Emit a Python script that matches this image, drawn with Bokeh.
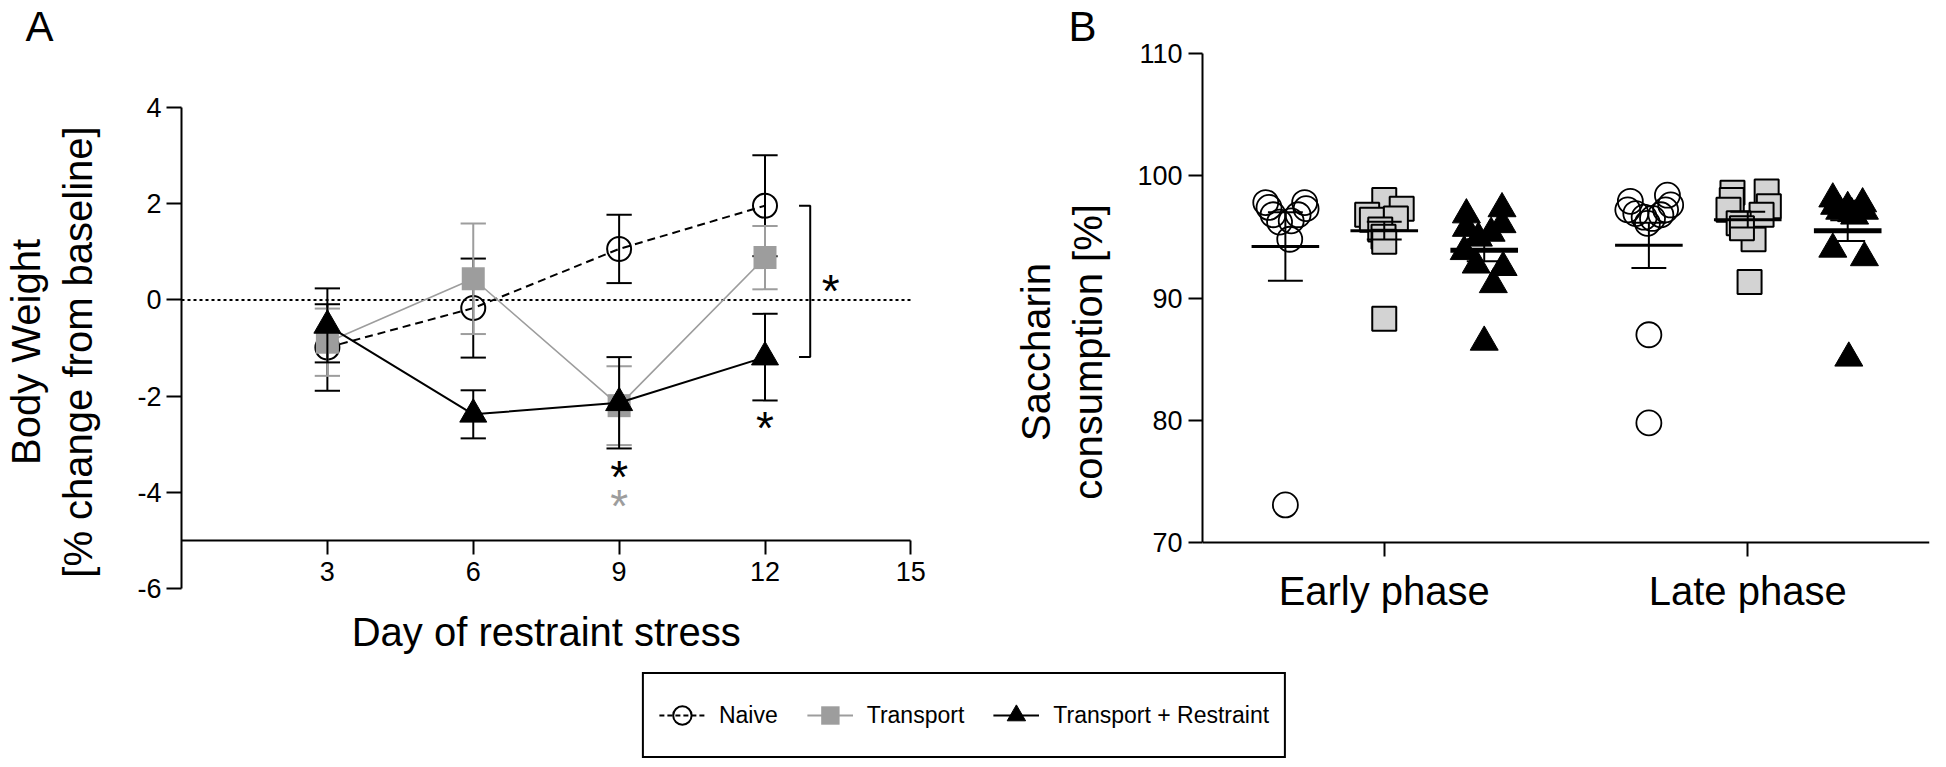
from bokeh.plotting import figure
from bokeh.models import (Range1d, LinearAxis, FixedTicker, Label, Legend,
                          LegendItem, ColumnDataSource)
from bokeh.layouts import row, column
from bokeh.embed import file_html
from bokeh.resources import INLINE
from bokeh.core.properties import value

FONT = "Liberation Sans"
GRAY = "#9d9d9d"
LIGHT = "#d3d3d3"

# ---------------- Panel A data (mean +/- SEM, % change from baseline)
days = [3, 6, 9, 12]
naive_mean = [-0.99, -0.17, 1.06, 1.96]
naive_sem = [0.90, 1.03, 0.71, 1.05]
transport_mean = [-0.88, 0.44, -2.20, 0.88]
transport_sem = [0.70, 1.15, 0.82, 0.66]
tr_mean = [-0.53, -2.38, -2.14, -1.19]
tr_sem = [0.77, 0.50, 0.95, 0.90]
x_ticks_A = [3, 6, 9, 12, 15]
y_ticks_A = [-6, -4, -2, 0, 2, 4]
x_axis_level_A = -5

# significance stars in panel A
sig_x = [9, 9, 12, 13.35]
sig_y = [-3.55, -4.17, -2.55, 0.3]
sig_color = ["black", GRAY, "black", "black"]

# ---------------- Panel B data (saccharin consumption, %)
phases = ["Early phase", "Late phase"]
y_ticks_B = [70, 80, 90, 100, 110]
naive_vals = [
    [97.8, 97.4, 97.8, 97.3, 96.8, 96.8, 96.2, 96.3, 94.8, 73.1],
    [97.9, 97.2, 96.9, 96.6, 96.5, 96.8, 98.4, 97.6, 97.2, 96.1, 87.0, 79.8],
]
transport_vals = [
    [98.0, 97.3, 96.8, 96.4, 96.5, 95.6, 95.0, 94.6, 88.3],
    [98.7, 98.6, 98.0, 97.2, 97.5, 96.8, 96.1, 94.8, 95.7, 91.3],
]
tr_vals = [
    [97.3, 96.8, 96.0, 95.7, 95.3, 94.9, 93.8, 92.7, 92.5, 91.1, 86.4],
    [98.1, 97.5, 97.1, 97.7, 97.1, 96.7, 97.4, 96.9, 94.0, 93.3, 85.1],
]
b_mean = {"naive": [94.2, 94.3], "transport": [95.5, 96.4], "tr": [93.9, 95.5]}
b_sem = {"naive": [2.8, 1.85], "transport": [0.72, 0.65], "tr": [0.9, 0.85]}

# horizontal scatter spread of the points (layout only)
naive_dx = [
    [-0.054, -0.045, 0.053, 0.057, -0.034, 0.035, -0.016, 0.016, 0.012, 0.0],
    [-0.051, -0.058, -0.036, -0.013, 0.010, 0.033, 0.051, 0.060, 0.046, -0.004, 0.0, 0.0],
]
transport_dx = [
    [0.0, 0.048, -0.047, -0.034, 0.032, -0.011, -0.002, 0.0, 0.0],
    [0.052, -0.042, -0.044, -0.053, 0.058, 0.038, -0.025, 0.016, -0.016, 0.005],
]
tr_dx = [
    [0.049, -0.049, 0.049, -0.049, 0.019, -0.016, -0.055, -0.022, 0.052, 0.025, 0.0],
    [-0.041, -0.036, -0.022, 0.041, 0.046, 0.019, 0.0, 0.011, -0.041, 0.046, 0.003],
]
group_shift = {"naive": -0.272, "transport": 0.0, "tr": 0.275}
phase_pos = [1, 2]


def style_axis(ax, tick_out=15):
    ax.axis_line_width = 2
    ax.major_tick_line_width = 2
    ax.major_tick_out = tick_out
    ax.major_tick_in = 0
    ax.minor_tick_out = 0
    ax.minor_tick_in = 0
    ax.major_label_text_font = FONT
    ax.major_label_text_font_size = "27px"
    ax.major_label_text_color = "black"
    ax.axis_label_text_font = FONT
    ax.axis_label_text_font_size = "40px"
    ax.axis_label_text_font_style = "normal"
    ax.axis_label_text_color = "black"


def style_title(p, text, offset):
    p.title.text = text
    p.title.text_font = FONT
    p.title.text_font_size = "42px"
    p.title.text_font_style = "normal"
    p.title.text_color = "black"
    p.title.align = "left"
    p.title.offset = offset
    p.title.standoff = 0


def errbars(p, xs, means, sems, color, hw, lw=2):
    lo = [m - s for m, s in zip(means, sems)]
    hi = [m + s for m, s in zip(means, sems)]
    xl = [x - hw for x in xs]
    xr = [x + hw for x in xs]
    p.segment(x0=xs, y0=lo, x1=xs, y1=hi, line_color=color, line_width=lw)
    p.segment(x0=xl, y0=hi, x1=xr, y1=hi, line_color=color, line_width=lw)
    p.segment(x0=xl, y0=lo, x1=xr, y1=lo, line_color=color, line_width=lw)


ROW_H = 663

# ======================= Panel A
pA = figure(width=960, height=ROW_H, x_range=Range1d(0, 16), y_range=Range1d(-7.376, 5.209),
            output_backend="svg", toolbar_location=None, x_axis_location=None,
            min_border_left=175, min_border_right=1, min_border_top=46,
            min_border_bottom=9)
pA.outline_line_color = None
pA.grid.visible = False
style_title(pA, "A", -156)

ya = pA.yaxis[0]
ya.ticker = FixedTicker(ticks=y_ticks_A)
ya.bounds = (y_ticks_A[0], y_ticks_A[-1])
ya.major_label_overrides = {t: str(t) for t in y_ticks_A}
style_axis(ya)
ya.major_label_standoff = 5
ya.axis_label = "Body Weight\n[% change from baseline]"
ya.axis_label_standoff = 34

xa = LinearAxis(ticker=FixedTicker(ticks=x_ticks_A), fixed_location=x_axis_level_A,
                bounds=(0, x_ticks_A[-1]))
style_axis(xa, tick_out=14)
xa.major_label_standoff = 8
pA.add_layout(xa, "below")

pA.add_layout(Label(x=x_ticks_A[-1] / 2, y=-6.9, text="Day of restraint stress",
                    text_font=FONT, text_font_size="40px", text_align="center",
                    text_baseline="middle", text_color="black"))

# zero reference line
pA.line([0, x_ticks_A[-1]], [0, 0], line_color="black", line_width=2, line_dash="3 3")

# Naive
errbars(pA, days, naive_mean, naive_sem, "black", 0.26)
pA.line(days, naive_mean, line_color="black", line_width=2, line_dash="8 5")
pA.scatter(days, naive_mean, marker="circle", size=24, fill_color=None,
           line_color="black", line_width=2)
# Transport
errbars(pA, days, transport_mean, transport_sem, GRAY, 0.26)
pA.line(days, transport_mean, line_color=GRAY, line_width=1.6)
pA.scatter(days, transport_mean, marker="square", size=23, fill_color=GRAY,
           line_color=None)
# Transport + Restraint
errbars(pA, days, tr_mean, tr_sem, "black", 0.26)
pA.line(days, tr_mean, line_color="black", line_width=2)
pA.scatter(days, tr_mean, marker="triangle", size=27, fill_color="black",
           line_color="black")

# bracket between Naive and Transport+Restraint on day 12
bx = days[-1] + 0.93
btick = days[-1] + 0.7
pA.line([btick, bx, bx, btick], [naive_mean[-1], naive_mean[-1], tr_mean[-1], tr_mean[-1]],
        line_color="black", line_width=2)

star_fs = 46
pA.text(x=sig_x, y=sig_y, text=["*"] * len(sig_x), text_color=sig_color,
        text_font=value(FONT), text_font_size=f"{star_fs}px", text_align="center",
        text_baseline="alphabetic", y_offset=6)

# ======================= Panel B
pB = figure(width=970, height=ROW_H, x_range=Range1d(0.5, 2.5), y_range=Range1d(60.88, 110.3),
            output_backend="svg", toolbar_location=None, x_axis_location=None,
            min_border_left=242, min_border_right=1, min_border_top=46,
            min_border_bottom=9)
pB.outline_line_color = None
pB.grid.visible = False
style_title(pB, "B", -134)

yb = pB.yaxis[0]
yb.ticker = FixedTicker(ticks=y_ticks_B)
yb.bounds = (y_ticks_B[0], y_ticks_B[-1])
style_axis(yb, tick_out=14)
yb.major_label_standoff = 6
yb.axis_label = "Saccharin\nconsumption [%]"
yb.axis_label_standoff = 24

xb = LinearAxis(ticker=FixedTicker(ticks=phase_pos), fixed_location=y_ticks_B[0])
xb.major_label_overrides = {pos: name for pos, name in zip(phase_pos, phases)}
style_axis(xb, tick_out=14)
xb.major_label_text_font_size = "40px"
xb.major_label_standoff = 12
pB.add_layout(xb, "below")

series_B = [
    ("naive", naive_vals, naive_dx, dict(marker="circle", size=25, fill_color=None,
                                          line_color="black", line_width=1.8), 3),
    ("transport", transport_vals, transport_dx, dict(marker="square", size=24,
                                                      fill_color=LIGHT, line_color="black",
                                                      line_width=2), 3),
    ("tr", tr_vals, tr_dx, dict(marker="triangle", size=28, fill_color="black",
                                line_color="black"), 5),
]
for key, vals, dxs, mk, mean_w in series_B:
    for i, pos in enumerate(phase_pos):
        xc = pos + group_shift[key]
        xs = [xc + d for d in dxs[i]]
        pB.scatter(xs, vals[i], **mk)
    gx = [pos + group_shift[key] for pos in phase_pos]
    errbars(pB, gx, b_mean[key], b_sem[key], "black", 0.048, lw=2)
    pB.segment(x0=[g - 0.093 for g in gx], y0=b_mean[key], x1=[g + 0.093 for g in gx],
               y1=b_mean[key], line_color="black", line_width=mean_w)

# ======================= Legend
pL = figure(width=1928, height=95, output_backend="svg", toolbar_location=None,
            x_axis_location=None, y_axis_location=None, min_border=0,
            x_range=Range1d(0, 1), y_range=Range1d(0, 1))
pL.outline_line_color = None
pL.grid.visible = False
proxy = ColumnDataSource(dict(x=[-1.0], y=[-1.0]))
l1 = pL.line("x", "y", source=proxy, line_color="black", line_width=2, line_dash="5 3")
m1 = pL.scatter("x", "y", source=proxy, marker="circle", fill_color=None,
                line_color="black", line_width=2)
l2 = pL.line("x", "y", source=proxy, line_color=GRAY, line_width=2)
m2 = pL.scatter("x", "y", source=proxy, marker="square", fill_color=GRAY, line_color=None)
l3 = pL.line("x", "y", source=proxy, line_color="black", line_width=2)
m3 = pL.scatter("x", "y", source=proxy, marker="triangle", fill_color="black",
                line_color="black")
legend = Legend(items=[LegendItem(label="Naive", renderers=[l1, m1]),
                       LegendItem(label="Transport", renderers=[l2, m2]),
                       LegendItem(label="Transport + Restraint", renderers=[l3, m3])],
                orientation="horizontal", location="top_center",
                label_text_font=FONT, label_text_font_size="23px", label_text_color="black",
                glyph_width=46, glyph_height=52, label_standoff=14, spacing=29,
                padding=15, margin=9, border_line_color="black", border_line_width=2,
                border_line_alpha=1.0)
pL.add_layout(legend, "center")

layout = column(row(pA, pB), pL)
open("out.html", "w").write(file_html(layout, INLINE))
